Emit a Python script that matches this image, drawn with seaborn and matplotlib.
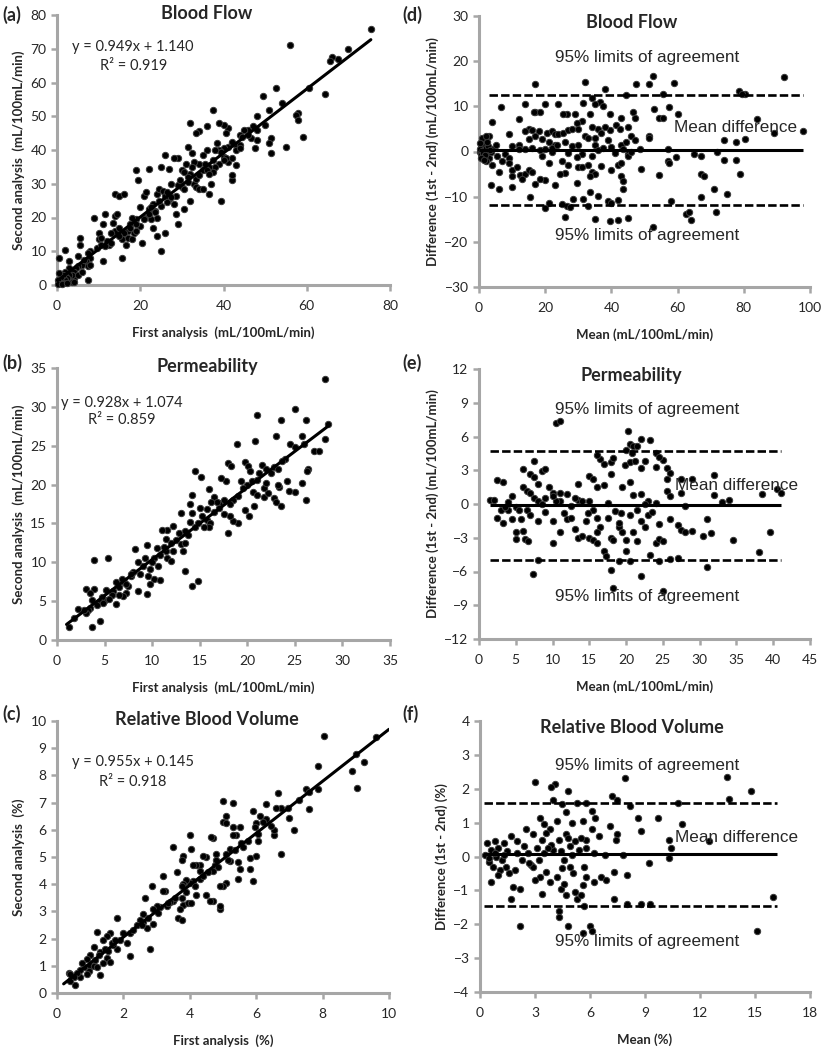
import matplotlib
matplotlib.use('Agg')
import matplotlib.pyplot as plt
import pandas as pd
import seaborn as sns

# ---- data ----
# (a) blood flow: first vs second analysis
flow_pts = [(75.5, 76), (56, 71), (70, 70), (66, 67.5), (67.5, 67), (65.5, 66.5), (64.5, 56.5), (60.5, 58.5),
            (52.5, 58.5), (54, 54), (49.5, 56), (51, 52), (48, 50), (58, 51), (57.5, 50.5), (58, 49), (59, 44),
            (55, 41), (51.5, 43.5), (51.5, 39), (51, 42), (47.5, 40.5), (48, 43), (48, 46), (47, 47), (46, 46),
            (45, 46), (44, 44.5), (43, 41.5), (41, 41), (42, 42), (40, 40.5), (41, 46.5), (40.5, 45), (40, 47.5),
            (39, 48), (37.5, 52), (36, 47), (34, 45.5), (33.5, 45), (32, 48), (31.5, 41), (36, 40), (35, 38.5),
            (39, 40), (40, 38), (38.5, 42), (39, 36), (38, 35), (37.5, 33.5), (36.5, 35), (35, 34), (34, 36),
            (33, 36.5), (32.5, 35), (32, 33), (31.5, 32), (30, 34), (29, 37.5), (28, 37.5), (26, 38.5), (27, 34.5),
            (25, 35), (22, 34.5), (19, 34), (19.5, 31), (21, 26.5), (20, 23), (24, 27), (24.5, 28.5), (25.5, 28),
            (26, 26.5), (27, 25.5), (28, 24), (28.5, 26.5), (29, 29.5), (29.5, 31), (30, 29), (30.5, 33.5),
            (31, 36), (32, 25), (33, 30), (33.5, 29), (34, 28.5), (35, 28.5), (36.5, 27), (37, 30), (39.5, 25),
            (42, 31), (42, 32.5), (41, 36.5), (43, 35.5), (42, 37.5), (44, 41.5), (29, 18), (28.5, 21),
            (30.5, 22.5), (25, 10), (26, 15.5), (24, 20), (23.5, 22), (23, 24), (22, 22.5), (21, 20), (20.5, 12.5),
            (24, 14.5), (22.5, 19.5), (20, 17.5), (19, 19.5), (18, 20), (17.5, 18), (18.5, 15.5), (19, 16),
            (17, 16), (16, 15.5), (15.5, 13.5), (16.5, 12), (17, 14), (18, 13.5), (15, 14.5), (14, 16),
            (13.5, 18.5), (14, 20.5), (14.5, 21), (15, 17), (14, 27), (15, 26.5), (16, 27), (13, 15.5), (12, 13),
            (11.5, 21), (11, 18), (10, 15.5), (10, 13.5), (10.5, 14), (9, 20), (9.5, 11), (11, 7), (10.5, 12),
            (8, 10), (7.5, 9.5), (8, 8), (7, 7), (6, 6), (6.5, 7.5), (7.5, 5.5), (8, 6), (7.5, 1.5), (5.5, 14),
            (5.5, 12), (5, 8.5), (5, 5.5), (4.5, 5), (4, 4), (4, 2), (3.5, 3), (3, 5), (3, 3), (3.5, 1), (2.5, 2),
            (2, 4), (2, 1.5), (2, 10.5), (1.5, 3), (1.5, 0.5), (1, 1), (1, 2.5), (0.5, 3.5), (0.5, 0.5), (0.5, 8),
            (0.3, 1.5), (0.2, 0.3), (1.2, 0.2), (2.5, 0.5), (4, 1), (5, 3), (6, 4), (3, 7), (12.5, 12), (15.5, 8),
            (21.5, 27.5), (26.5, 27.5), (25, 23.5), (22.5, 23), (27.5, 30), (24.5, 25), (23, 17), (32.5, 39),
            (33.5, 31.5), (35.5, 36), (36, 34), (37.5, 37), (38, 40), (39.5, 39.5), (40.5, 37.5), (44.5, 44),
            (46.5, 43.5), (43, 40), (42, 42.5), (11.5, 11.5), (13, 12.5), (17.5, 17), (19, 18), (21, 19.5),
            (22, 21), (23.5, 21.5), (26.5, 24.5), (27.5, 26), (30.5, 28.5), (31.5, 30.5), (34, 32.5), (36.5, 33),
            (40, 37), (44, 40.5), (46, 44.5), (50, 47.5)]

# (b) permeability: first vs second analysis
perm_pts = [(28.2, 33.6), (25, 29.7), (21, 28.9), (23.5, 28.3), (26.2, 28.3), (28.5, 27.8), (23, 26.3),
            (25.8, 26.2), (28.2, 25.9), (20.8, 25.6), (18.9, 25.2), (24.5, 25.2), (24, 23.3), (27, 24.3),
            (27.5, 24.3), (26.4, 22), (26.3, 21.8), (24.2, 20.4), (25, 19.1), (24.4, 19.2), (23.3, 19.7),
            (23.2, 19.9), (22.8, 18.3), (23, 17.8), (23.5, 17.2), (21.8, 18.4), (20.6, 19.1), (21.8, 19.5),
            (22.2, 18.9), (25.8, 20.2), (26.2, 18), (20.2, 16), (19.8, 16.7), (19, 15), (18.5, 15.3), (18.2, 16),
            (18, 13.8), (17.5, 16.2), (17, 17.6), (16, 19.4), (15.1, 21), (14.5, 21.7), (14.2, 18.7), (15, 17),
            (14, 17.5), (14.2, 16.3), (15.8, 15.4), (16.1, 15.1), (16, 14.5), (14.8, 15), (14.5, 14.5), (13.5, 14),
            (13, 16.4), (12.2, 14.7), (11.6, 14.2), (11, 14.2), (11.5, 13), (12, 12.5), (12.5, 12.9), (13, 12.3),
            (13.5, 12.5), (13.2, 11.5), (12.2, 11.5), (11.6, 10.5), (11.5, 11.5), (12, 10.2), (10.8, 10.9),
            (10.5, 11.8), (10.2, 10.5), (10, 10), (9.5, 12.2), (9.2, 10.5), (9.8, 9.2), (9.6, 8.2), (10.2, 7.9),
            (9.8, 7.2), (9.5, 5.9), (10.8, 7.7), (8.5, 10), (8.2, 11.7), (8, 8.8), (7.8, 8.2), (7.5, 7), (8.5, 6.3),
            (7, 7.5), (7.2, 6.1), (6.9, 5.6), (6.5, 6.8), (6.2, 7.5), (6.5, 5.8), (6.2, 4.6), (5.9, 6.3),
            (5.4, 10.6), (5.2, 6.4), (5, 5.2), (4.7, 5.5), (4.5, 4.9), (4.2, 4.5), (3.9, 10.3), (3.9, 6.6),
            (3.1, 6.5), (3.5, 6), (3.5, 4.1), (3.7, 5.1), (3.3, 3.8), (3, 3.5), (2.8, 3.8), (2.2, 4), (1.8, 2.8),
            (1.3, 1.7), (3.7, 1.7), (4.5, 2.4), (14.2, 7), (14.8, 7.6), (13.5, 8.9), (15.5, 14.5), (16.5, 16.5),
            (17, 17), (17.5, 18), (17.8, 20.5), (17.2, 20.8), (18, 22.8), (18.3, 22.4), (19.3, 20.5), (19.8, 22.9),
            (20.1, 22.4), (20.3, 21.8), (20, 20), (20.5, 20.5), (21, 20.6), (21.2, 21.5), (21.5, 22.5), (22, 22),
            (22.5, 21.5), (22.8, 22.2), (19.5, 19.5), (19, 18.5), (18.5, 18), (21, 18.7), (16.5, 18.4),
            (16.8, 17.8), (15.8, 16.8), (15.2, 16), (14, 15.2), (13.8, 13.5), (12.8, 13.8), (11.2, 12), (10.6, 9.5),
            (9, 9.5), (8.7, 8.5), (7.8, 8.5), (7.2, 7.2), (6.8, 7.8), (5.8, 5.8), (5.5, 5.3), (4.8, 4.7),
            (16.2, 17.8), (18.2, 17.5), (20.7, 17.3), (22, 20.2), (23.2, 22), (23.6, 23), (25, 24.8), (26, 25.2)]

# (c) relative blood volume: first vs second analysis
vol_pts = [(8.05, 9.45), (9.6, 9.4), (9, 8.8), (9.25, 8.5), (7.85, 8.35), (8.9, 8.15), (9.05, 7.55), (7.5, 7.5),
           (7.6, 7.4), (7.85, 7.5), (7.6, 6.75), (7, 6.45), (7.15, 6), (6.65, 7.35), (6.75, 6.8), (6.6, 6.8),
           (6.3, 6.95), (6.75, 5.1), (6.55, 5.8), (6.55, 6), (6.3, 6.4), (6.2, 6.3), (6.1, 6.5), (5.9, 6.7),
           (6, 6.25), (5.95, 6.1), (6.05, 5.85), (6.05, 5.6), (6, 5.05), (5.9, 4.1), (5.8, 4.55), (5.5, 4.55),
           (5.45, 4.8), (5.45, 4.2), (5.8, 4.95), (5.55, 5.5), (5.5, 6.1), (5.3, 7), (5, 7.05), (5.1, 6.5),
           (5, 6.3), (5.1, 6.25), (5.3, 6.1), (5.4, 5.8), (5.3, 5.8), (5.2, 5.3), (5.1, 5.1), (5.2, 4.85),
           (5.1, 4.05), (5, 3.95), (4.9, 3.95), (4.9, 3.1), (4.9, 3.2), (4.7, 3.4), (4.6, 3.4), (4.5, 3.6),
           (4.7, 4.5), (4.75, 4.7), (4.8, 5.1), (4.8, 4.9), (4.7, 5.7), (4.65, 5.75), (4.5, 5), (4.4, 5.05),
           (4.3, 4.7), (4.2, 4.7), (4.1, 4.7), (4.05, 5.3), (4, 5.8), (4.3, 4.5), (4.3, 4.2), (4.1, 4.1), (4, 4.05),
           (3.9, 4.15), (3.8, 4), (3.75, 3.95), (3.8, 5.05), (3.75, 4.9), (3.6, 4.45), (3.5, 5.35), (3.75, 3.5),
           (3.8, 3.25), (3.95, 3.3), (4.05, 3.3), (4.2, 3.6), (3.7, 3.1), (3.65, 2.75), (3.75, 2.7), (3.5, 3.4),
           (3.4, 3.35), (3.3, 3.2), (3.2, 4.3), (3.25, 3.75), (3.2, 3.75), (3.1, 3.15), (3.0, 3.2), (2.9, 3.1),
           (2.85, 3.95), (2.9, 2.55), (2.8, 1.6), (2.65, 3.5), (2.6, 2.9), (2.7, 2.4), (2.6, 2.6), (2.5, 2.7),
           (2.4, 2.5), (2.2, 2.2), (2.1, 1.85), (2.2, 1.35), (2, 2.2), (1.8, 2.75), (1.9, 1.95), (1.8, 1.6),
           (1.7, 1.75), (1.6, 2.2), (1.5, 2.1), (1.4, 1.95), (1.5, 1.3), (1.6, 1.15), (1.4, 1.1), (1.3, 1.5),
           (1.2, 2.25), (1.25, 1.4), (1.15, 1.2), (1.3, 0.65), (1.1, 1.7), (1.0, 1.4), (1.0, 1.0), (0.9, 1.25),
           (0.95, 0.8), (0.8, 0.95), (0.75, 1.1), (0.7, 0.85), (0.7, 0.6), (0.6, 0.75), (0.55, 0.3), (0.5, 0.6),
           (0.4, 0.45), (0.35, 0.75), (0.4, 0.7), (0.9, 0.7), (1.1, 1.0), (1.2, 0.95), (1.45, 1.6), (1.55, 1.55),
           (1.65, 1.85), (1.75, 1.95), (2.3, 2.3), (2.55, 2.5), (2.75, 2.75), (3.05, 2.95), (3.35, 3.3),
           (3.55, 3.5), (3.9, 3.7), (4.15, 3.95), (4.4, 4.3), (4.55, 4.45), (4.85, 4.65), (5.15, 4.9),
           (5.35, 5.25), (5.6, 5.35), (5.75, 5.6), (6.45, 6.15), (6.95, 6.8), (7.3, 7.1)]

# (d) blood flow Bland-Altman: mean vs difference
flow_ba = [(92, 16.5), (52.5, 16.8), (51.5, 15), (59, 15.2), (47.5, 15), (32, 15.3), (17, 14.9), (38, 13.8),
           (78.5, 13.5), (80.5, 12.7), (79.5, 12.8), (55.5, 12.7), (44.5, 12.5), (34, 11.8), (36.5, 11),
           (31.5, 10.7), (35, 10.5), (14, 10.5), (20, 10.5), (24, 10.5), (37.5, 10), (6.5, 9.8), (53, 9.3),
           (57.5, 9.8), (54.5, 7.5), (55.5, 7.5), (60, 8.2), (26.5, 8.2), (25.5, 8.2), (29, 8.2), (33.5, 8.2),
           (17, 8.8), (18.5, 8.8), (16.5, 8.8), (39.5, 8.2), (12, 7.3), (84, 7.1), (46.5, 8.7), (43, 7.4),
           (47, 7.5), (4, 6.5), (31, 6.8), (29.5, 6.3), (45, 5.5), (34, 5.5), (36, 5), (39.5, 4.8), (41.5, 5.8),
           (42.5, 4.9), (15, 5), (16, 4.8), (14, 4.5), (18, 4.5), (20.5, 4.2), (22, 4.5), (23, 3.8), (24, 3.8),
           (25.5, 4), (27, 4.8), (28, 5), (30, 5), (32, 3.5), (33, 3), (35, 3), (37, 4), (38, 5.5), (46, 3.5),
           (51.5, 3.5), (51.5, 3), (74, 2.5), (77.5, 2), (80.5, 2.8), (98, 4.5), (89, 4), (21, 2.2), (23, 1.5),
           (26, 2), (28, 1.2), (30, 1.5), (35, 1.5), (40, 1), (43, 1.5), (44.5, 2), (47, 2.5), (15, 2.8),
           (17, 3.5), (19, 2.8), (9, 3.8), (10, 1.2), (12, 1.5), (14, 0.5), (16, 0.8), (18.5, 0.3), (22, 0),
           (27, -0.3), (31, -0.5), (36, 0.3), (41, -0.3), (45, -0.5), (48.5, 0.5), (57, 0.5), (72, 0), (67, -1),
           (59.5, -1.2), (77.5, -1.8), (74, -1.8), (57, -2), (57.5, -2.5), (65, -0.5), (3, 3.5), (2, 2.5), (1, 2),
           (0.5, 1), (0.2, 0), (1.5, 0.5), (2.5, -0.5), (1, -1), (3, -1.5), (4, 0.5), (5, 1.5), (2, -2),
           (0.5, -0.5), (1.5, 1.5), (3.5, 0), (5.5, -1), (7, -2), (8, -0.5), (9, -1.5), (10, -4), (11.5, -3.5),
           (12.5, -5.3), (10, -5.5), (14, -5), (15, -4), (16, -4.5), (13, -6), (9, -2.5), (6, -4.5), (4, -3),
           (3.5, -7.5), (6, -8.3), (10, -7.8), (15.5, -10), (20, -6.3), (17, -7.2), (18.5, -6), (23, -7.5),
           (21, -2.5), (25, -2.2), (27, -3), (29.5, -1.2), (30, -3.5), (31, -3.5), (33, -3), (34, -4.5),
           (35, -5), (33.5, -5.5), (37, -3.2), (40, -4), (42, -3), (43, -2.5), (43, -5.5), (43.5, -6.5),
           (43.5, -8.3), (45, -1), (49, -3.8), (54.5, -5.3), (67, -5), (68, -5.5), (67, -10), (71, -8.2),
           (75, -9.5), (79, -5), (29.5, -7), (28.5, -10.5), (31.5, -10.5), (33.5, -9), (36, -9.8), (39, -11),
           (40, -11.5), (42, -10.7), (33, -12), (26.5, -12), (27.5, -12.3), (21, -11.5), (20, -12.5), (25, -11.7),
           (26, -14.5), (35, -15), (39.5, -15.3), (42, -15.2), (45, -14.8), (52.5, -16.7), (62.5, -13.8),
           (63.5, -13.5), (64, -15.2), (71.5, -13.3), (58, -11), (26, -4.8), (24.5, -5), (22, 0.8), (23.5, 1.5),
           (19, -1), (12, 0.5), (20, 0.5), (34, -1), (37.5, 0.8), (39, 2.5), (43.5, 0.5), (46, -0.2), (0.3, 0.5),
           (0.8, 0.2), (1.2, -0.3), (1.8, -0.8), (2.2, 0.8), (2.8, 1.2), (0.6, -1.5), (1.4, -1.8), (2.4, 2),
           (3.2, 0.4), (1.0, 3), (0.4, 1.8), (2, 3.5)]

# (e) permeability Bland-Altman
perm_ba = [(10.5, 7.2), (11, 7.4), (20.3, 6.5), (22, 5.8), (23.3, 5.7), (20.5, 5.3), (21, 5.2), (21.5, 5.2),
           (20, 4.8), (20.8, 4.5), (24, 4.5), (25, 3.9), (24.5, 4.2), (19.8, 3.5), (20.5, 3.7), (21.2, 3.8),
           (22, 3.2), (22.5, 3.8), (16.5, 4), (17, 3.6), (18, 3.7), (18.2, 4.1), (16, 4.4), (24, 3.3),
           (25.5, 3.2), (26, 2.8), (25.5, 2.2), (27.5, 2.2), (29, 2.2), (32, 2.6), (7.5, 3.8), (6, 3.1), (7, 2.7),
           (7.5, 2.4), (8.5, 2.9), (9, 3.1), (9.5, 1.5), (10, 1), (11, 1), (2.5, 2.1), (3.3, 2), (15, 2.5),
           (15.5, 2.2), (16, 1.5), (17, 1.7), (18, 2.7), (19.5, 1.5), (20.5, 2), (21, 0.8), (22, 0.9), (23, 0.3),
           (24, 0.1), (25.5, 1.2), (26, 0.7), (27.5, 1), (32, 0.8), (33, 0.2), (34, 0.4), (38.5, 0.9), (40.5, 1.3),
           (41, 1), (13.5, 1.8), (12, 0.9), (11, 0.3), (1.5, 0.4), (2, 0.4), (3, -0.5), (2.5, -1.2), (3.2, -1.7),
           (4, -0.5), (4.5, 0.7), (5, -0.3), (4.5, -1.3), (5.5, -0.5), (5.7, -1.3), (6, 1.5), (6.5, 1.2), (7, 1),
           (7.5, 0.5), (8, 0.3), (8.5, 0), (6.5, -0.5), (7, -1), (8, -1.5), (9, -0.7), (6, -2.4), (5, -2.5),
           (5, -3.1), (6.2, -3.1), (6.6, -3.3), (10, -3.5), (7.3, -6.2), (8, -5), (10, -1.5), (11.5, -0.8),
           (12, -1.3), (11, -2.5), (13, -2.2), (13.5, -3), (14, -2.8), (14.5, -1.5), (13.5, 0.4), (14, 0.3),
           (15, 0.3), (15.5, -0.5), (16, -1.2), (16.5, -2), (16, -2.5), (15, -3), (15.5, -3.2), (16, -3.5),
           (17, -4.2), (17.2, -4.6), (18, -3), (18.2, -3.2), (19, -2), (19.5, -2.5), (20, -3.2), (21, -2.5),
           (21.5, -3.3), (22, -1.5), (23, -1), (22.5, -2), (20, -4.2), (18, -5.9), (18.2, -7.5), (19, -5.1),
           (22, -6.4), (23.2, -4.5), (25, -7.7), (24, -3.5), (24.5, -3.1), (25, -3.3), (24.5, -1.8), (26, -1.3),
           (27, -1.9), (27.5, -2.3), (28, -2.5), (29, -2.4), (31, -1.3), (30.5, -2.8), (31.5, -2.6), (34.5, -3.2),
           (39.5, -2.5), (38, -4.3), (31, -5.6), (28, -0.2), (26, -4.9), (27, -4.8), (24.5, -5.1), (20.5, -5.1),
           (13, 0.5), (12.5, -0.2), (17.5, 0.1), (18.5, -0.6), (19.3, -0.8), (20.5, -1), (21.5, -0.5), (9, 0.5),
           (10.5, 0.3), (4, 0.2), (3.5, -0.3), (8, 1.8), (10, 0.7), (17.5, -1.2), (19, -1.7), (23.5, -0.7),
           (22.5, 0), (14.8, -0.8), (12.5, -1.2)]

# (f) relative blood volume Bland-Altman
vol_ba = [(13.5, 2.35), (7.9, 2.32), (3, 2.2), (4.1, 2.15), (3.9, 2.05), (14.8, 1.93), (4.8, 1.93), (7.2, 1.8),
          (7.5, 1.68), (4, 1.67), (13.6, 1.7), (4.5, 1.55), (5.3, 1.57), (5.8, 1.58), (10.8, 1.58), (8.2, 1.48),
          (6.1, 1.35), (4.7, 1.3), (8.6, 1.15), (9.7, 1.15), (6.3, 1.15), (4.2, 1.05), (3.3, 1.15), (3.5, 0.95),
          (5, 1), (5.6, 1.05), (11, 0.95), (7.1, 0.9), (7.5, 0.65), (6.1, 0.8), (8.8, 0.75), (3.8, 0.8),
          (3.6, 0.7), (4.7, 0.65), (2.9, 0.65), (2.5, 0.8), (4.3, 0.5), (10.3, 0.5), (12.5, 0.45), (6.5, 0.6),
          (5.8, 0.5), (5.2, 0.45), (4.9, 0.3), (3.1, 0.25), (2, 0.45), (1.7, 0.6), (1.3, 0.4), (0.8, 0.45),
          (0.4, 0.4), (0.6, 0.2), (1.0, 0.25), (1.5, 0.15), (0.3, 0.05), (0.5, -0.15), (0.9, 0), (1.2, -0.1),
          (0.7, -0.3), (1.1, -0.4), (1.4, -0.3), (1.6, -0.5), (1.9, -0.4), (2.3, -0.1), (2.8, -0.25), (3.2, -0.1),
          (3.5, 0.1), (4.0, 0.2), (4.4, 0.15), (4.6, -0.1), (5.0, 0.05), (5.4, 0.2), (5.8, 0.25), (6.2, 0.1),
          (6.8, 0.05), (7.4, 0.5), (7.8, 0.05), (10.4, 0.25), (10.3, -0.05), (9.2, -0.2), (8, -0.55),
          (7.3, -0.45), (6.6, -0.6), (6.9, -0.7), (6.2, -0.75), (5.8, -0.6), (5.6, -0.85), (5.2, -1.05),
          (5.3, -1.25), (5.5, -1.15), (4.7, -1.15), (4.4, -0.95), (4.6, -0.8), (4.2, -0.6), (3.8, -0.75),
          (3.6, -0.45), (3.3, -0.6), (3.0, -0.7), (2.9, -0.3), (2.7, -0.2), (3.4, -1.1), (2.2, -0.95),
          (1.8, -0.9), (1.7, -1.25), (2.2, -2.05), (4.3, -1.6), (4.3, -1.8), (4.8, -2.05), (5.6, -2.25),
          (6, -2.05), (6.1, -2.2), (5.7, -1.45), (7.3, -1.25), (8, -1.4), (8.8, -1.4), (9.3, -1.4), (16, -1.2),
          (15.1, -2.2), (0.5, -0.05), (0.8, 0.1), (1.3, 0.05), (1.0, -0.55), (0.6, -0.75), (2.4, 0.3),
          (3.9, 0.35), (4.8, 0.55), (5.5, 0.55), (3.4, 0.5), (3.7, 0.25), (4.5, -0.35), (5.1, -0.5), (4.9, -0.3),
          (5.7, -0.3), (2.0, 0.1), (2.6, 0.1)]

titles = ['Blood Flow', 'Permeability', 'Relative Blood Volume']
fit_slope = [0.949, 0.928, 0.955]
fit_icpt = [1.140, 1.074, 0.145]
fit_r2 = [0.919, 0.859, 0.918]
fit_xrange = [(0.2, 75.4), (1.0, 28.6), (0.2, 10.0)]

ba_mean = [0.3, -0.1, 0.07]
ba_upper = [12.6, 4.7, 1.59]
ba_lower = [-11.8, -5.0, -1.47]
ba_solid_x = [(0, 98), (1.5, 41), (0.2, 16.2)]
ba_dash_x = [(3, 98), (1.5, 41), (0.2, 16.2)]

sc_xlabels = ['First analysis  (mL/100mL/min)', 'First analysis  (mL/100mL/min)', 'First analysis  (%)']
sc_ylabels = ['Second analysis  (mL/100mL/min)', 'Second analysis  (mL/100mL/min)', 'Second analysis  (%)']
ba_xlabels = ['Mean (mL/100mL/min)', 'Mean (mL/100mL/min)', 'Mean (%)']
ba_ylabels = ['Difference (1st - 2nd) (mL/100mL/min)', 'Difference (1st - 2nd) (mL/100mL/min)',
              'Difference (1st - 2nd) (%)']

sc_xlim = [(0, 80, 20), (0, 35, 5), (0, 10, 2)]
sc_ylim = [(0, 80, 10), (0, 35, 5), (0, 10, 1)]
ba_xlim = [(0, 100, 20), (0, 45, 5), (0, 18, 3)]
ba_ylim = [(-30, 30, 10), (-12, 12, 3), (-4, 4, 1)]

# label placement (data coords)
eq_pos = [(18.3, 70.5, 64.9), (6.8, 30.45, 28.3), (2.29, 8.5, 7.76)]
ba_top_txt = [(50.8, 20.9), (22.8, 8.4), (9.1, 2.7)]
ba_bot_txt = [(50.8, -18.7), (22.8, -8.2), (9.1, -2.52)]
ba_mean_txt = [(59, 5.4), (26.6, 1.6), (10.66, 0.55)]

sns.set_style('ticks')
plt.rcParams['font.family'] = ['Lato', 'DejaVu Sans']

GRAY = '#a6a6a6'
TXT = '#262626'

fig = plt.figure(figsize=(8.24, 10.5), dpi=100)
W, H = 824, 1050
left_boxes = [(57, 15, 333, 270), (57, 368, 333, 272), (57, 721, 332, 272)]
right_boxes = [(479, 16, 331, 271), (479, 369, 331, 270), (480, 721, 330, 271)]


def make_ax(box):
    x, y, w, h = box
    return fig.add_axes([x / W, (H - y - h) / H, w / W, h / H])


def style(ax, xl, yl, xlabel, ylabel):
    ax.set_xlim(xl[0], xl[1])
    ax.set_ylim(yl[0], yl[1])
    ax.set_xticks(range(xl[0], xl[1] + 1, xl[2]))
    ax.set_yticks(range(yl[0], yl[1] + 1, yl[2]))
    sns.despine(ax=ax)
    for s in ['left', 'bottom']:
        ax.spines[s].set_color(GRAY)
        ax.spines[s].set_linewidth(2.2)
    ax.tick_params(colors=GRAY, width=1.8, length=4, labelcolor=TXT, labelsize=10)
    ax.tick_params(axis='x', pad=7)
    ax.set_xlabel(xlabel, fontsize=9.5, fontweight='bold', color=TXT, labelpad=10)
    ax.set_ylabel(ylabel, fontsize=9.5, fontweight='bold', color=TXT, labelpad=4)


scatter_sets = [flow_pts, perm_pts, vol_pts]
ba_sets = [flow_ba, perm_ba, vol_ba]
letters_l = ['(a)', '(b)', '(c)']
letters_r = ['(d)', '(e)', '(f)']
lab_y = [15, 363, 714]
afont = ['Liberation Sans', 'DejaVu Sans']

for i in range(3):
    # left column: first vs second with fitted line
    ax = make_ax(left_boxes[i])
    df = pd.DataFrame(scatter_sets[i], columns=['first', 'second'])
    sns.scatterplot(data=df, x='first', y='second', ax=ax, color='black', s=21,
                    edgecolor='#3a3a3a', linewidth=0.7, clip_on=False, zorder=3)
    x0, x1 = fit_xrange[i]
    fit = pd.DataFrame({'x': [x0, x1],
                        'y': [fit_slope[i] * x0 + fit_icpt[i], fit_slope[i] * x1 + fit_icpt[i]]})
    ax.plot(fit['x'], fit['y'], color='black', lw=2.2, zorder=4)
    style(ax, sc_xlim[i], sc_ylim[i], sc_xlabels[i], sc_ylabels[i])
    ex, ey1, ey2 = eq_pos[i]
    ax.text(ex, ey1, f'y = {fit_slope[i]:.3f}x + {fit_icpt[i]:.3f}', ha='center', va='center',
            fontsize=10.5, color=TXT)
    ax.text(ex, ey2, f'R² = {fit_r2[i]:.3f}', ha='center', va='center', fontsize=10.5, color=TXT)
    ax.text(0.45, 1.005, titles[i], transform=ax.transAxes, ha='center', va='center',
            fontsize=13, fontweight='bold', color=TXT)
    fig.text(2 / W, 1 - lab_y[i] / H, letters_l[i], ha='left', va='center', fontsize=13,
             fontweight='bold', color=TXT)

    # right column: Bland-Altman
    ax = make_ax(right_boxes[i])
    df = pd.DataFrame(ba_sets[i], columns=['mean', 'diff'])
    sns.scatterplot(data=df, x='mean', y='diff', ax=ax, color='black', s=21,
                    edgecolor='#3a3a3a', linewidth=0.7, clip_on=False, zorder=3)
    ax.hlines(ba_mean[i], ba_solid_x[i][0], ba_solid_x[i][1], color='black', lw=2.2, zorder=4)
    ax.hlines([ba_upper[i], ba_lower[i]], ba_dash_x[i][0], ba_dash_x[i][1], color='black', lw=1.9,
              linestyles=(0, (3.2, 1.2)), zorder=4)
    style(ax, ba_xlim[i], ba_ylim[i], ba_xlabels[i], ba_ylabels[i])
    ax.text(*ba_top_txt[i], '95% limits of agreement', ha='center', va='center', fontsize=12.3,
            family=afont, color=TXT)
    ax.text(*ba_bot_txt[i], '95% limits of agreement', ha='center', va='center', fontsize=12.3,
            family=afont, color=TXT)
    ax.text(*ba_mean_txt[i], 'Mean difference', ha='left', va='center', fontsize=12.3,
            family=afont, color=TXT)
    ax.text(0.46, 0.975, titles[i], transform=ax.transAxes, ha='center', va='center',
            fontsize=13, fontweight='bold', color=TXT)
    fig.text(402 / W, 1 - lab_y[i] / H, letters_r[i], ha='left', va='center', fontsize=13,
             fontweight='bold', color=TXT)

fig.savefig('out.png', dpi=100)
